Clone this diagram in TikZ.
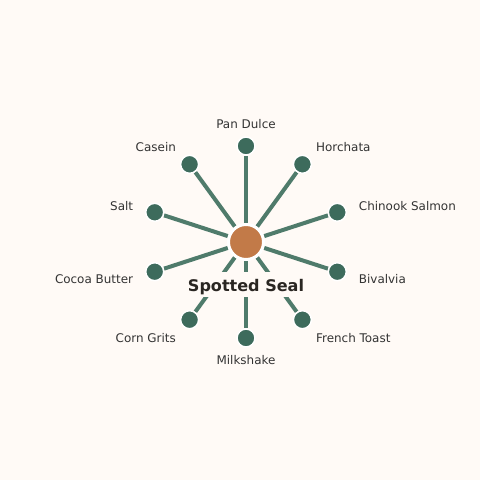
\documentclass[tikz,border=0pt]{standalone}
\usepackage{fontspec}
\setmainfont{DejaVu Sans}
\usetikzlibrary{backgrounds}
\definecolor{bgc}{HTML}{FFFAF6}
\definecolor{nodec}{HTML}{3D6B5C}
\definecolor{edgec}{HTML}{4F7B6B}
\definecolor{hubc}{HTML}{C27A48}
\definecolor{txtc}{HTML}{333333}
\definecolor{titlec}{HTML}{2A2622}
\pgfdeclarelayer{edgelayer}
\pgfsetlayers{background,edgelayer,main}
\begin{document}
\begin{tikzpicture}[x=1bp,y=-1bp,
 hub/.style={circle,fill=hubc,draw=white,line width=3bp,minimum size=35bp,inner sep=0pt},
 leaf/.style={circle,fill=nodec,draw=white,line width=1.5bp,minimum size=18bp,inner sep=0pt},
 lbl/.style={font=\fontsize{12}{14}\selectfont,text=txtc,inner sep=0.5bp},
 spoke/.style={draw=edgec,line width=4bp},
 ttl/.style={font=\fontsize{16.1}{19}\selectfont\bfseries,fill=bgc,text=titlec,inner xsep=4bp,inner ysep=0pt,text height=16.4bp,text depth=3.2bp,minimum height=25bp}]
\useasboundingbox (0,0) rectangle (480,480);
\begin{pgfonlayer}{background}
\fill[bgc] (0,0) rectangle (480,480);
\end{pgfonlayer}
\node[hub] (hub) at (246,242) {};
\node[leaf] (n1) at (246,146) {};
\node[leaf] (n2) at (302.4,164.3) {};
\node[leaf] (n3) at (337.3,212.3) {};
\node[leaf] (n4) at (337.3,271.7) {};
\node[leaf] (n5) at (302.4,319.7) {};
\node[leaf] (n6) at (246,338) {};
\node[leaf] (n7) at (189.6,319.7) {};
\node[leaf] (n8) at (154.7,271.7) {};
\node[leaf] (n9) at (154.7,212.3) {};
\node[leaf] (n10) at (189.6,164.3) {};
\begin{pgfonlayer}{edgelayer}
\foreach \n in {n1,n2,n3,n4,n5,n6,n7,n8,n9,n10}
  \draw[spoke] (hub) -- (\n);
\end{pgfonlayer}
\node[lbl] (l1) at (246,124.5) {Pan Dulce};
\node[lbl,anchor=west] (l2) at (315.4,147) {Horchata};
\node[lbl,anchor=west] (l3) at (358.2,206) {Chinook Salmon};
\node[lbl,anchor=west] (l4) at (358.2,279) {Bivalvia};
\node[lbl,anchor=west] (l5) at (315.4,338) {French Toast};
\node[lbl] (l6) at (246,360.5) {Milkshake};
\node[lbl,anchor=east] (l7) at (176.6,338) {Corn Grits};
\node[lbl,anchor=east] (l8) at (133.8,279) {Cocoa Butter};
\node[lbl,anchor=east] (l9) at (133.8,206) {Salt};
\node[lbl,anchor=east] (l10) at (176.6,147) {Casein};
\node[ttl] (title) at (246,284.5) {Spotted Seal};
\end{tikzpicture}
\end{document}
